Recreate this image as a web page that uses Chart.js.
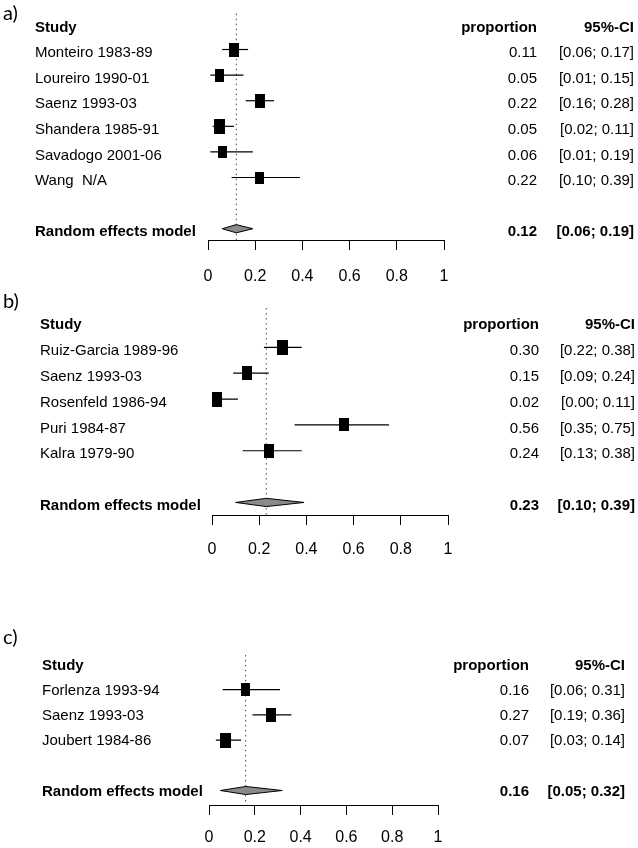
<!DOCTYPE html>
<html>
<head>
<meta charset="utf-8">
<script src="https://cdn.jsdelivr.net/npm/chart.js@4.4.0/dist/chart.umd.min.js"></script>
<style>
  html, body { margin: 0; padding: 0; background: #fff; }
  body { width: 638px; height: 848px; position: relative; overflow: hidden; }
  canvas { position: absolute; left: 0; }
</style>
</head>
<body>
<canvas id="panelA"></canvas>
<canvas id="panelB"></canvas>
<canvas id="panelC"></canvas>
<script>
// a)
const studiesA = ["Monteiro 1983-89", "Loureiro 1990-01", "Saenz 1993-03", "Shandera 1985-91", "Savadogo 2001-06", "Wang  N/A"];
const propA = [0.11, 0.05, 0.22, 0.05, 0.06, 0.22];
const lowerA = [0.06, 0.01, 0.16, 0.02, 0.01, 0.10];
const upperA = [0.17, 0.15, 0.28, 0.11, 0.19, 0.39];
const weightsA = [18.0, 15.1, 18.4, 20.3, 14.3, 13.9];
const pooledA = [0.12, 0.06, 0.19]; // estimate, lower, upper

// b)
const studiesB = ["Ruiz-Garcia 1989-96", "Saenz 1993-03", "Rosenfeld 1986-94", "Puri 1984-87", "Kalra 1979-90"];
const propB = [0.30, 0.15, 0.02, 0.56, 0.24];
const lowerB = [0.22, 0.09, 0.00, 0.35, 0.13];
const upperB = [0.38, 0.24, 0.11, 0.75, 0.38];
const weightsB = [21.9, 19.5, 21.5, 17.6, 19.5];
const pooledB = [0.23, 0.10, 0.39];

// c)
const studiesC = ["Forlenza 1993-94", "Saenz 1993-03", "Joubert 1984-86"];
const propC = [0.16, 0.27, 0.07];
const lowerC = [0.06, 0.19, 0.03];
const upperC = [0.31, 0.36, 0.14];
const weightsC = [27.7, 34.4, 37.9];
const pooledC = [0.16, 0.05, 0.32];

const xTicks = [0, 0.2, 0.4, 0.6, 0.8, 1];

// page layout of each panel (pixels)
const panels = [
  { id: "panelA", letter: "a)", studies: studiesA, prop: propA, lower: lowerA, upper: upperA, weights: weightsA, pooled: pooledA,
    top: 0, headerY: 19.7, rowH: 26.1, axisY: 240, axisH: 50, tickPad: 17, x0: 208, x1: 444,
    labelX: 35, propRight: 537, ciRight: 634, textDy: 3.5, letterY: 14, dotTop: -0.4 },
  { id: "panelB", letter: "b)", studies: studiesB, prop: propB, lower: lowerB, upper: upperB, weights: weightsB, pooled: pooledB,
    top: 290, headerY: 321.5, rowH: 25.85, axisY: 515, axisH: 50, tickPad: 15, x0: 212, x1: 448,
    labelX: 40, propRight: 539, ciRight: 635, textDy: 3.5, letterY: 302, dotTop: -0.52 },
  { id: "panelC", letter: "c)", studies: studiesC, prop: propC, lower: lowerC, upper: upperC, weights: weightsC, pooled: pooledC,
    top: 625, headerY: 664.5, rowH: 25.2, axisY: 805, axisH: 43, tickPad: 13, x0: 209, x1: 438,
    labelX: 42, propRight: 529, ciRight: 625, textDy: 1.2, letterY: 637.5, dotTop: -0.38 }
];

const FONT = '"Liberation Sans", Arial, sans-serif';

function textPlugin(p) {
  return {
    id: "forestText",
    afterDraw(chart) {
      const ctx = chart.ctx;
      const ys = chart.scales.y;
      const rowY = r => ys.getPixelForValue(r) + p.textDy;
      const n = p.studies.length;
      ctx.save();
      ctx.fillStyle = "#000";
      ctx.textBaseline = "middle";
      ctx.textAlign = "left";
      ctx.font = '20px Lato, "Open Sans", sans-serif';
      ctx.fillText(p.letter, 3, p.letterY - p.top);

      ctx.font = "bold 15px " + FONT;
      ctx.fillText("Study", p.labelX, rowY(0));
      ctx.fillText("Random effects model", p.labelX, rowY(n + 2));
      ctx.textAlign = "right";
      ctx.fillText("proportion", p.propRight, rowY(0));
      ctx.fillText("95%-CI", p.ciRight, rowY(0));
      ctx.fillText(p.pooled[0].toFixed(2), p.propRight, rowY(n + 2));
      ctx.fillText("[" + p.pooled[1].toFixed(2) + "; " + p.pooled[2].toFixed(2) + "]", p.ciRight, rowY(n + 2));

      ctx.font = "15px " + FONT;
      p.studies.forEach((s, i) => {
        ctx.textAlign = "left";
        ctx.fillText(s, p.labelX, rowY(i + 1));
        ctx.textAlign = "right";
        ctx.fillText(p.prop[i].toFixed(2), p.propRight, rowY(i + 1));
        ctx.fillText("[" + p.lower[i].toFixed(2) + "; " + p.upper[i].toFixed(2) + "]", p.ciRight, rowY(i + 1));
      });
      ctx.restore();
    }
  };
}

function buildPanel(p) {
  const n = p.studies.length;
  const poolRow = n + 2;
  const yMin = -0.7;
  const yMax = (p.axisY - p.headerY) / p.rowH;
  const canvas = document.getElementById(p.id);
  canvas.width = 638;
  canvas.height = p.axisY - p.top + p.axisH;
  canvas.style.top = p.top + "px";

  // study boxes, area proportional to weight
  const maxW = Math.max(...p.weights);
  const boxes = p.weights.map(w => {
    const k = Math.sqrt(w / maxW);
    const c = document.createElement("canvas");
    c.width = Math.round(11 * k);
    c.height = Math.round(14.7 * k);
    const g = c.getContext("2d");
    g.fillStyle = "#000";
    g.fillRect(0, 0, c.width, c.height);
    return c;
  });

  const datasets = [];
  // dotted line at pooled estimate
  datasets.push({
    data: [{ x: p.pooled[0], y: p.dotTop }, { x: p.pooled[0], y: yMax }],
    showLine: true, borderColor: "#444", borderWidth: 1, borderDash: [1.5, 3.5],
    pointRadius: 0, order: 10
  });
  // confidence intervals
  p.studies.forEach((s, i) => {
    datasets.push({
      data: [{ x: p.lower[i], y: i + 1 }, { x: p.upper[i], y: i + 1 }],
      showLine: true, borderColor: "#000", borderWidth: 1.2, pointRadius: 0, order: 5
    });
  });
  // boxes
  datasets.push({
    data: p.prop.map((v, i) => ({ x: v, y: i + 1 })),
    pointStyle: boxes, pointRadius: 5, showLine: false, order: 1
  });
  // diamond (upper and lower halves)
  const [est, lo, hi] = p.pooled;
  datasets.push({
    data: [{ x: lo, y: poolRow }, { x: est, y: poolRow - 0.16 }, { x: hi, y: poolRow }],
    showLine: true, borderColor: "#000", borderWidth: 1, pointRadius: 0, fill: false, order: 0
  });
  datasets.push({
    data: [{ x: lo, y: poolRow }, { x: est, y: poolRow + 0.16 }, { x: hi, y: poolRow }],
    showLine: true, borderColor: "#000", borderWidth: 1, pointRadius: 0,
    fill: "-1", backgroundColor: "#8a8a8a", order: 0
  });

  new Chart(canvas, {
    type: "scatter",
    data: { datasets },
    options: {
      responsive: false,
      animation: false,
      events: [],
      layout: {
        padding: {
          left: p.x0,
          right: 638 - p.x1,
          top: p.headerY + yMin * p.rowH - p.top,
          bottom: 0
        }
      },
      plugins: { legend: { display: false }, tooltip: { enabled: false } },
      scales: {
        x: {
          type: "linear", min: 0, max: 1,
          afterBuildTicks: s => { s.ticks = xTicks.map(v => ({ value: v })); },
          afterFit: s => { s.height = p.axisH; },
          border: { display: true, color: "#000", width: 1 },
          grid: { drawOnChartArea: false, drawTicks: true, tickLength: 10, color: "#000", lineWidth: 1 },
          ticks: {
            font: { family: FONT, size: 16 }, color: "#000", padding: p.tickPad,
            maxRotation: 0, autoSkip: false, callback: v => String(v)
          }
        },
        y: { type: "linear", display: false, reverse: true, min: yMin, max: yMax }
      }
    },
    plugins: [textPlugin(p)]
  });
}

panels.forEach(buildPanel);
</script>
</body>
</html>
